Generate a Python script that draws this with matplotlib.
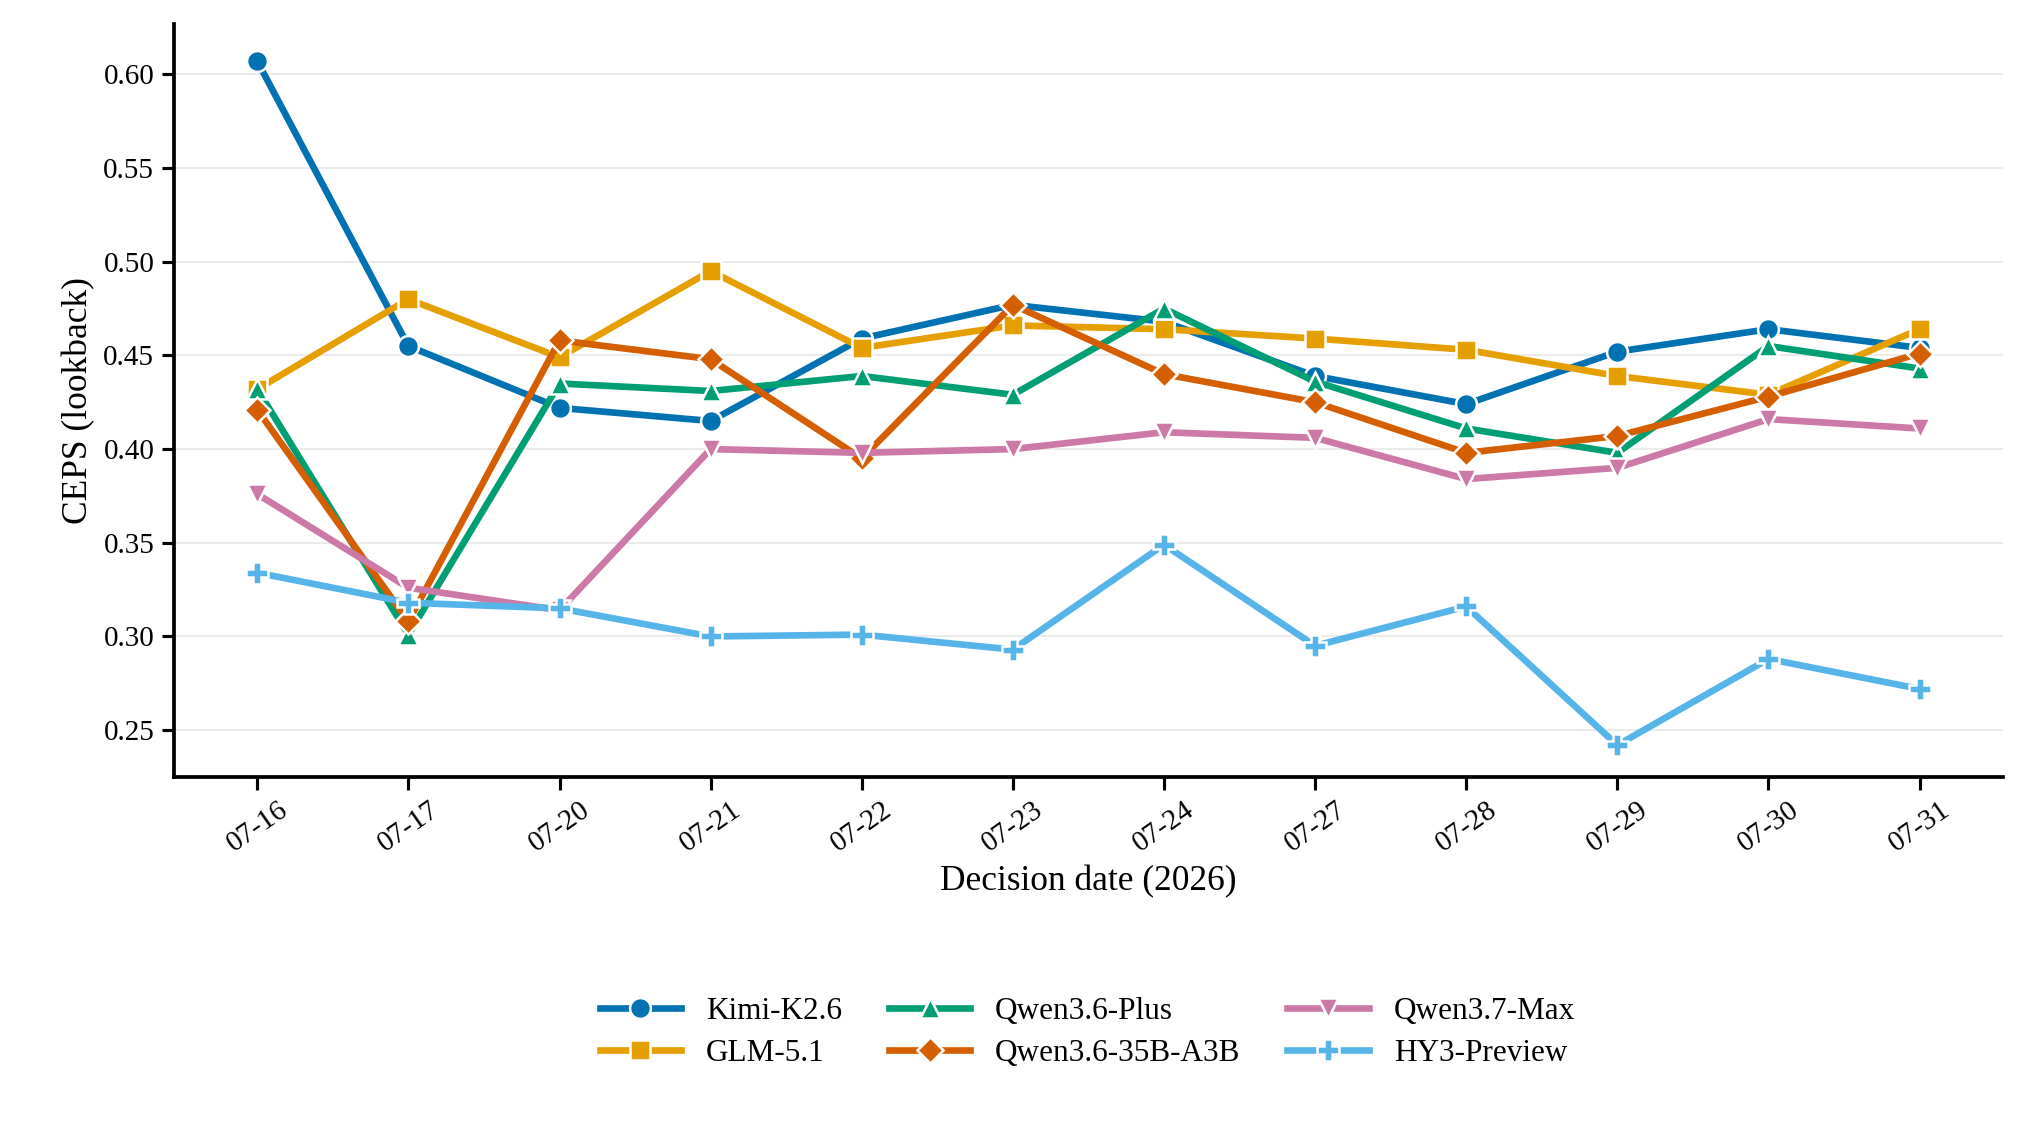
import matplotlib
matplotlib.use("Agg")
import matplotlib.pyplot as plt

dates = ["07-16","07-17","07-20","07-21","07-22","07-23","07-24","07-27","07-28","07-29","07-30","07-31"]
kimi = [0.607,0.455,0.422,0.415,0.459,0.477,0.468,0.439,0.424,0.452,0.464,0.454]
glm = [0.432,0.480,0.449,0.495,0.454,0.466,0.464,0.459,0.453,0.439,0.429,0.464]
qplus = [0.432,0.301,0.435,0.431,0.439,0.429,0.475,0.436,0.411,0.398,0.455,0.443]
q35 = [0.421,0.308,0.458,0.448,0.395,0.477,0.440,0.425,0.398,0.407,0.428,0.451]
qmax = [0.376,0.326,0.314,0.400,0.398,0.400,0.409,0.406,0.384,0.390,0.416,0.411]
hy3 = [0.334,0.318,0.315,0.300,0.301,0.293,0.349,0.295,0.316,0.242,0.288,0.272]

series = [
    ("Kimi-K2.6", kimi, "#0072B2", "o", 10),
    ("GLM-5.1", glm, "#E69F00", "s", 10),
    ("Qwen3.6-Plus", qplus, "#009E73", "^", 10),
    ("Qwen3.6-35B-A3B", q35, "#D55E00", "D", 9),
    ("Qwen3.7-Max", qmax, "#CC79A7", "v", 10),
    ("HY3-Preview", hy3, "#56B4E9", "P", 11),
]

plt.rcParams['font.family'] = ['Liberation Serif', 'DejaVu Serif']
fig = plt.figure(figsize=(13.5, 7.54), dpi=150)
ax = fig.add_axes([0.086, 0.313, 0.903, 0.666])
x = list(range(len(dates)))
for name, vals, c, m, ms in series:
    ax.plot(x, vals, color=c, marker=m, markersize=ms, linewidth=3.2,
            markeredgecolor="white", markeredgewidth=1.2, label=name)

ax.set_xticks(x)
ax.set_xticklabels(dates, rotation=35, fontsize=14)
ax.set_xlim(-0.55, 11.55)
ax.set_ylim(0.225, 0.627)
ax.set_yticks([0.25,0.30,0.35,0.40,0.45,0.50,0.55,0.60])
ax.set_yticklabels([f"{v:.2f}" for v in ax.get_yticks()], fontsize=14)
ax.set_xlabel("Decision date (2026)", fontsize=17)
ax.set_ylabel("CEPS (lookback)", fontsize=17)
ax.grid(axis='y', color='#e8e8e8', linewidth=0.8)
ax.set_axisbelow(True)
for s in ["top", "right"]:
    ax.spines[s].set_visible(False)
for s in ["left", "bottom"]:
    ax.spines[s].set_linewidth(1.8)
ax.tick_params(width=1.5, length=6)

fig.legend(loc="center", bbox_to_anchor=(0.537, 0.087), ncol=3, frameon=False,
           fontsize=15, handlelength=2.6, columnspacing=1.5, labelspacing=0.4)
fig.savefig("out.png", dpi=150)
